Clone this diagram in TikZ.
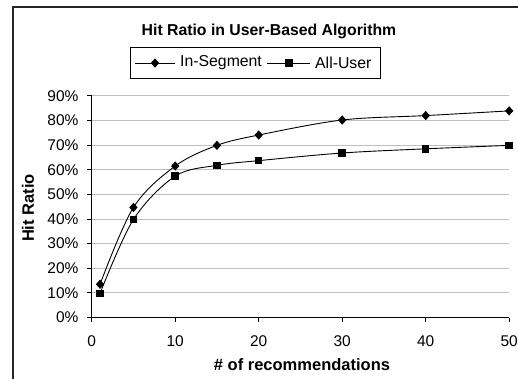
\documentclass[tikz,border=0pt]{standalone}
\usepackage{fontspec}
\setmainfont{Liberation Sans}
\usetikzlibrary{shapes.geometric}
\begin{document}
\begin{tikzpicture}[x=1pt,y=-1pt,
  grid/.style={draw=black!25,line width=0.9pt},
  axisline/.style={draw=black,line width=1pt},
  series/.style={draw=black,line width=0.9pt,smooth,tension=0.55},
  dmark/.style={diamond,fill=black,inner sep=0pt,minimum width=8.5pt,minimum height=9.5pt},
  smark/.style={rectangle,fill=black,inner sep=0pt,minimum size=7.5pt},
  ticklab/.style={font=\fontsize{15.5}{18}\selectfont,inner sep=0pt},
  titlelab/.style={font=\fontsize{15.8}{18}\selectfont\bfseries,inner sep=0pt},
  boldlab/.style={font=\fontsize{16.5}{19}\selectfont\bfseries,inner sep=0pt},
  legtext/.style={font=\fontsize{15.8}{18}\selectfont,inner sep=0pt,anchor=west}]
\useasboundingbox[fill=white] (0,0) rectangle (518,379);
\draw[line width=1.3pt,draw=black!85] (13,379) -- (13,7) -- (518,7);
% title
\node[titlelab] (title) at (269,31) {Hit Ratio in User-Based Algorithm};
% legend
\node[draw=black,line width=1pt,minimum width=250pt,minimum height=31pt,inner sep=0pt] (legend) at (255,63) {};
\coordinate (l1a) at (135,63); \coordinate (l1b) at (175,63);
\coordinate (l2a) at (267,63); \coordinate (l2b) at (310,63);
\draw[line width=0.9pt] (l1a) -- (l1b);
\draw[line width=0.9pt] (l2a) -- (l2b);
\node[dmark] (ld) at (155,63) {};
\node[smark] (ls) at (289,63) {};
\node[legtext] (lt1) at (180,63) {In-Segment};
\node[legtext] (lt2) at (315,63) {All-User};
% axis labels
\node[boldlab,rotate=90] (ylab) at (28,208) {Hit Ratio};
\node[boldlab] (xlab) at (302,365) {\# of recommendations};
\begin{scope}[shift={(91.7,317.5)},x=8.35pt,y=2.4625pt]
  \foreach \p in {10,20,...,90} \draw[grid] (0,\p) -- (50,\p);
  \foreach \p in {0,10,...,90} {
    \draw[axisline] (0,\p) -- ++(-4.3pt,0);
    \node[ticklab,anchor=east] (yt\p) at ([xshift=-13pt]0,\p) {\p\%};
  }
  \foreach \v in {0,10,...,50} {
    \draw[axisline] (\v,0) -- ++(0,-4.5pt);
    \node[ticklab] (xt\v) at ([yshift=-24pt]\v,0) {\v};
  }
  \draw[axisline] (0,0) -- (50,0);
  \draw[axisline] (0,0) -- (0,90);
  % data nodes
  \foreach \n/\x/\y in {1/1/13.5,2/5/44.7,3/10/61.5,4/15/69.9,5/20/74.1,6/30/80.2,7/40/82,8/50/83.9}
    \coordinate (a\n) at (\x,\y);
  \foreach \n/\x/\y in {1/1/9.8,2/5/39.8,3/10/57.4,4/15/61.8,5/20/63.7,6/30/66.8,7/40/68.5,8/50/69.9}
    \coordinate (b\n) at (\x,\y);
  \draw[series] plot coordinates {(a1) (a2) (a3) (a4) (a5) (a6) (a7) (a8)};
  \draw[series] plot coordinates {(b1) (b2) (b3) (b4) (b5) (b6) (b7) (b8)};
  \foreach \n in {1,...,8} {
    \node[dmark] (ma\n) at (a\n) {};
    \node[smark] (mb\n) at (b\n) {};
  }
\end{scope}
\end{tikzpicture}
\end{document}
